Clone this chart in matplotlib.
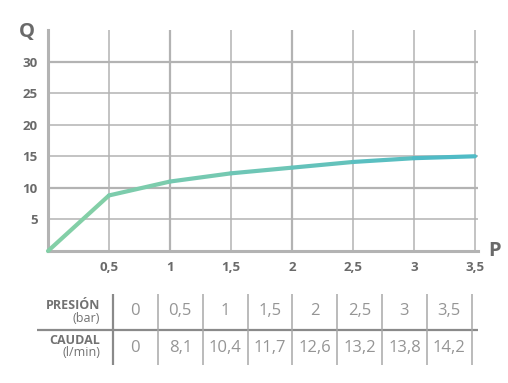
import matplotlib
matplotlib.use("Agg")
import matplotlib.pyplot as plt
import numpy as np
from matplotlib.collections import LineCollection
from matplotlib.colors import LinearSegmentedColormap

# ---- data ----
curve_p = [0, 0.5, 1, 1.5, 2, 2.5, 3, 3.5]
curve_q = [0, 8.8, 11.0, 12.3, 13.2, 14.1, 14.7, 15.0]
x_ticks = [0.5, 1, 1.5, 2, 2.5, 3, 3.5]
x_tick_labels = ["0,5", "1", "1,5", "2", "2,5", "3", "3,5"]
y_ticks = [5, 10, 15, 20, 25, 30]
y_tick_labels = ["5", "10", "15", "20", "25", "30"]
presion_vals = ["0", "0,5", "1", "1,5", "2", "2,5", "3", "3,5"]
caudal_vals = ["0", "8,1", "10,4", "11,7", "12,6", "13,2", "13,8", "14,2"]

W, H = 508, 383
fig = plt.figure(figsize=(W / 100, H / 100), dpi=100)
plt.rcParams['font.family'] = ['Open Sans', 'DejaVu Sans']

def px_axes(l, t, r, b):
    return fig.add_axes([l / W, 1 - b / H, (r - l) / W, (b - t) / H])

grid_c = "#b3b3b3"
tick_c = "#6a6a6a"

ax = px_axes(48, 30, 478, 251)
ax.set_xlim(0, 3.525)
ax.set_ylim(0, 35)
for s in ["top", "right"]:
    ax.spines[s].set_visible(False)
for s in ["left", "bottom"]:
    ax.spines[s].set_color(grid_c)
    ax.spines[s].set_linewidth(2.2)
ax.set_xticks(x_ticks)
ax.set_xticklabels(x_tick_labels)
ax.set_yticks(y_ticks)
ax.set_yticklabels(y_tick_labels)
ax.tick_params(length=0, labelsize=9.5, colors=tick_c, pad=7.5)
for lab in ax.get_xticklabels() + ax.get_yticklabels():
    lab.set_fontweight("bold")
for xv in x_ticks:
    ax.axvline(xv, color=grid_c, lw=1.6 if xv in (1, 2) else 1.1, zorder=1)
for yv in y_ticks:
    ax.axhline(yv, color=grid_c, lw=1.6 if yv in (10, 30) else 1.1, zorder=1)

cmap = LinearSegmentedColormap.from_list("g", ["#86d0a4", "#6ec6b6", "#4bb9c9"])
pts = np.column_stack([curve_p, curve_q])
segs = np.stack([pts[:-1], pts[1:]], axis=1)
mids = (np.array(curve_p[:-1]) + np.array(curve_p[1:])) / 2 / 3.5
lc = LineCollection(segs, colors=cmap(mids), linewidths=3.0, capstyle="round",
                    joinstyle="round", zorder=3, clip_on=False)
ax.add_collection(lc)

fig.text(27 / W, 1 - 32 / H, "Q", fontsize=14.5, fontweight="bold", color=tick_c,
         ha="center", va="center")
fig.text(495 / W, 1 - 251 / H, "P", fontsize=14.5, fontweight="bold", color=tick_c,
         ha="center", va="center")

# ---- table ----
cw = 44.84
tx = px_axes(37, 294, 478, 365)
tx.set_xlim((37 - 113) / cw, (478 - 113) / cw)
tx.set_ylim(0, 2)
tx.axis("off")
tx.plot([(37 - 113) / cw, (478 - 113) / cw], [1, 1], color="#8a8a8a", lw=1.6,
        solid_capstyle="butt")
tx.plot([0, 0], [0, 2], color="#8a8a8a", lw=1.6)
for i in range(1, len(presion_vals) + 1):
    tx.plot([i, i], [0, 2], color="#a8a8a8", lw=1.1)
val_c = "#959595"
for i, (p, q) in enumerate(zip(presion_vals, caudal_vals)):
    tx.text(i + 0.5, 1.53, p, ha="center", va="center", fontsize=12, color=val_c)
    tx.text(i + 0.5, 0.49, q, ha="center", va="center", fontsize=12, color=val_c)
hx = (100 - 113) / cw
hc = "#727272"
tx.text(hx, 1.69, "PRESIÓN", ha="right", va="center", fontsize=9, fontweight="bold", color=hc)
tx.text(hx, 1.30, "(bar)", ha="right", va="center", fontsize=9, color=hc)
tx.text(hx, 0.70, "CAUDAL", ha="right", va="center", fontsize=9, fontweight="bold", color=hc)
tx.text(hx, 0.36, "(l/min)", ha="right", va="center", fontsize=9, color=hc)

fig.savefig("out.png", dpi=100)
